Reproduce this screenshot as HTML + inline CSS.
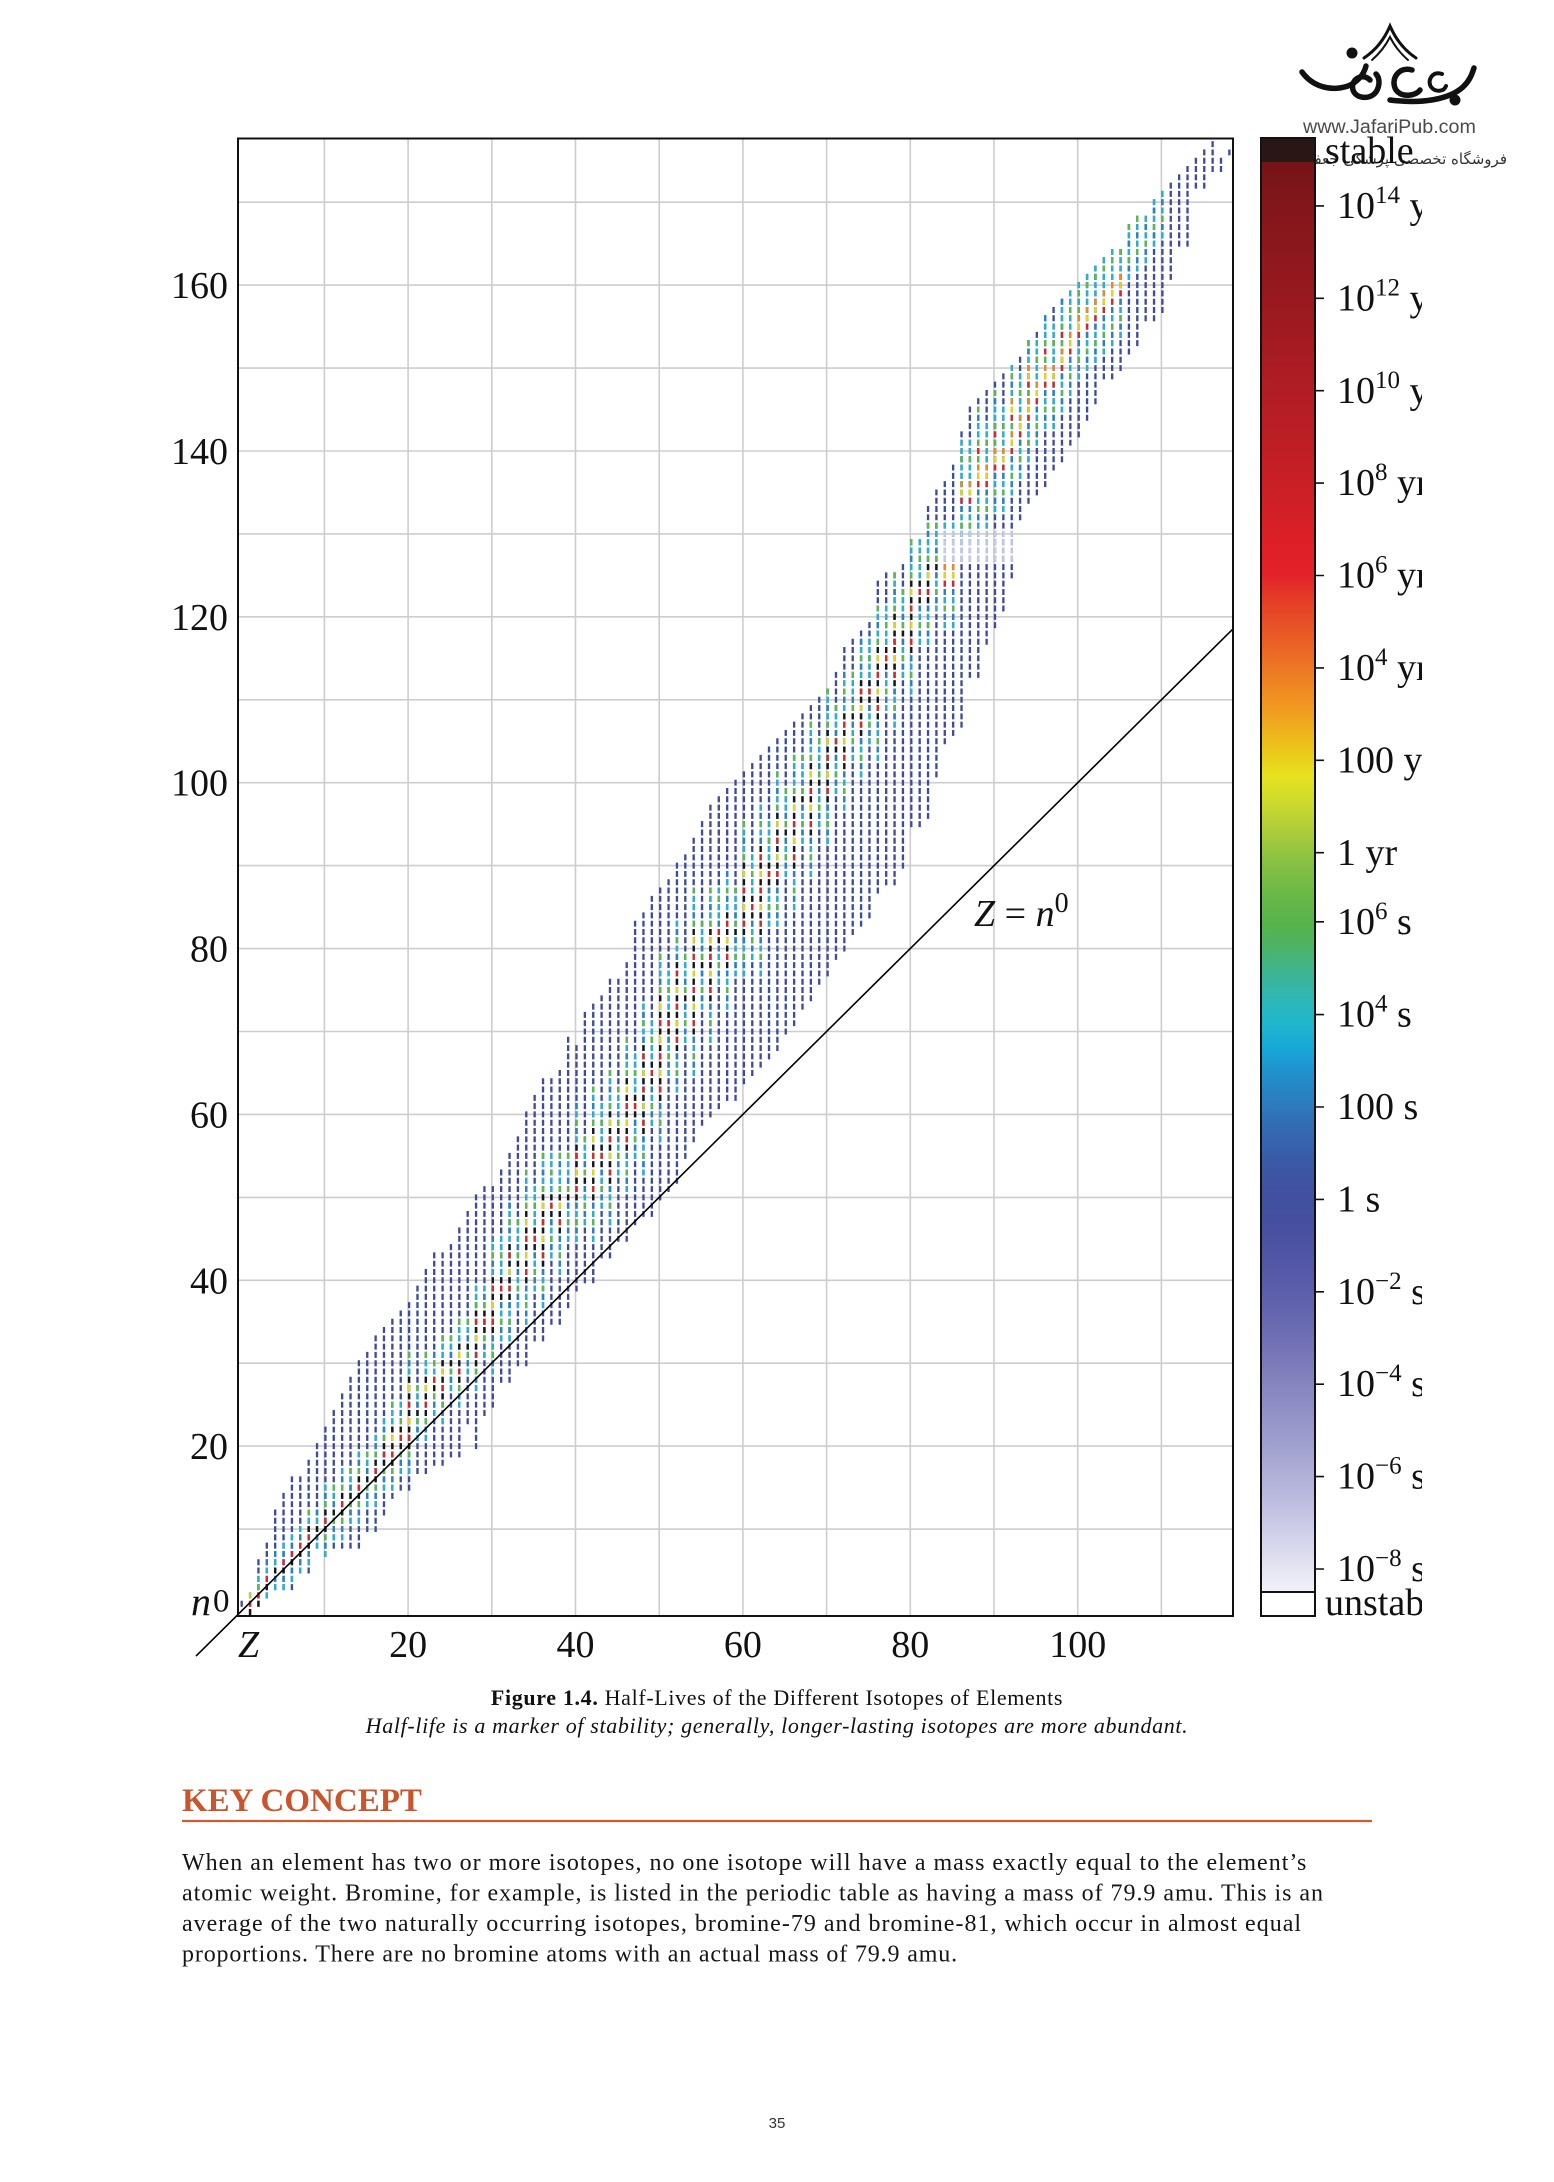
<!DOCTYPE html>
<html>
<head>
<meta charset="utf-8">
<style>
html,body{margin:0;padding:0;background:#fff;}
body{width:1554px;height:2182px;overflow:hidden;position:relative;}
svg{position:absolute;left:0;top:0;}
.serif{font-family:"Liberation Serif","Times New Roman",serif;}
</style>
</head>
<body>
<svg width="1554" height="2182" viewBox="0 0 1554 2182" xmlns="http://www.w3.org/2000/svg">
<defs>
<linearGradient id="cb" x1="0" y1="0" x2="0" y2="1">
<stop offset="0" stop-color="#761418"/>
<stop offset=".031" stop-color="#82161b"/>
<stop offset=".0965" stop-color="#98191f"/>
<stop offset=".159" stop-color="#b11d24"/>
<stop offset=".225" stop-color="#c91f26"/>
<stop offset=".264" stop-color="#dc1f27"/>
<stop offset=".289" stop-color="#e32228"/>
<stop offset=".306" stop-color="#e53c27"/>
<stop offset=".324" stop-color="#e85227"/>
<stop offset=".341" stop-color="#eb6626"/>
<stop offset=".355" stop-color="#ee7725"/>
<stop offset=".369" stop-color="#ef8a22"/>
<stop offset=".387" stop-color="#f0a01f"/>
<stop offset=".404" stop-color="#eebb1c"/>
<stop offset=".418" stop-color="#e9d01b"/>
<stop offset=".429" stop-color="#e8e21e"/>
<stop offset=".446" stop-color="#d0db2b"/>
<stop offset=".464" stop-color="#b3cf38"/>
<stop offset=".481" stop-color="#95c53f"/>
<stop offset=".499" stop-color="#7bbd44"/>
<stop offset=".516" stop-color="#65b848"/>
<stop offset=".534" stop-color="#56b34c"/>
<stop offset=".548" stop-color="#4db364"/>
<stop offset=".562" stop-color="#43b486"/>
<stop offset=".576" stop-color="#37b5a4"/>
<stop offset=".590" stop-color="#2bb7bc"/>
<stop offset=".603" stop-color="#1fb6ce"/>
<stop offset=".621" stop-color="#17a6d8"/>
<stop offset=".638" stop-color="#2190cc"/>
<stop offset=".656" stop-color="#2b7ec0"/>
<stop offset=".673" stop-color="#326db3"/>
<stop offset=".691" stop-color="#385fab"/>
<stop offset=".708" stop-color="#3d55a3"/>
<stop offset=".725" stop-color="#4150a0"/>
<stop offset=".743" stop-color="#474f9f"/>
<stop offset=".761" stop-color="#4e54a3"/>
<stop offset=".778" stop-color="#565aa8"/>
<stop offset=".796" stop-color="#5f61ad"/>
<stop offset=".813" stop-color="#6a6ab2"/>
<stop offset=".831" stop-color="#7574b7"/>
<stop offset=".848" stop-color="#8080bd"/>
<stop offset=".866" stop-color="#8c8cc4"/>
<stop offset=".883" stop-color="#9797ca"/>
<stop offset=".901" stop-color="#a3a3d0"/>
<stop offset=".918" stop-color="#afafd7"/>
<stop offset=".936" stop-color="#bcbcdf"/>
<stop offset=".953" stop-color="#cbcbe6"/>
<stop offset=".971" stop-color="#d9d9ee"/>
<stop offset=".985" stop-color="#e6e6f3"/>
<stop offset="1" stop-color="#f1f1f8"/>
</linearGradient>
<clipPath id="lc"><rect x="1316" y="0" width="106" height="1700"/></clipPath>
<path id="r" d="M0 .64V1.36M1 -.36V2.36M2 .64V6.36M3 1.64V8.36M4 2.64V12.36M5 2.64V14.36M6 2.64V16.36M7 4.64V16.36M8 4.64V18.36M9 7.64V20.36M10 6.64V22.36M11 7.64V24.36M12 7.64V26.36M13 7.64V28.36M14 7.64V30.36M15 9.64V31.36M16 9.64V33.36M17 11.64V34.36M18 13.64V35.36M19 14.64V36.36M20 14.64V37.36M21 16.64V39.36M22 16.64V41.36M23 17.64V43.36M24 17.64V43.36M25 18.64V44.36M26 18.64V46.36M27 22.64V48.36M28 19.64V50.36M29 23.64V51.36M30 24.64V51.36M31 27.64V53.36M32 27.64V55.36M33 29.64V57.36M34 29.64V60.36M35 32.64V62.36M36 32.64V64.36M37 34.64V64.36M38 34.64V65.36M39 36.64V69.36M40 38.64V68.36M41 39.64V72.36M42 39.64V73.36M43 42.64V74.36M44 42.64V76.36M45 44.64V76.36M46 44.64V78.36M47 46.64V83.36M48 47.64V84.36M49 47.64V86.36M50 49.64V87.36M51 50.64V88.36M52 51.64V90.36M53 54.64V91.36M54 56.64V93.36M55 58.64V95.36M56 59.64V97.36M57 60.64V98.36M58 61.64V99.36M59 61.64V100.36M60 63.64V101.36M61 64.64V102.36M62 65.64V103.36M63 66.64V104.36M64 67.64V105.36M65 69.64V106.36M66 70.64V107.36M67 72.64V108.36M68 73.64V109.36M69 75.64V110.36M70 76.64V111.36M71 78.64V113.36M72 79.64V116.36M73 81.64V117.36M74 82.64V118.36M75 83.64V119.36M76 86.64V124.36M77 87.64V125.36M78 87.64V125.36M79 89.64V126.36M80 94.64V129.36M81 94.64V129.36M82 95.64V133.36M83 100.64V135.36M84 104.64V136.36M85 105.64V138.36M86 106.64V142.36M87 112.64V145.36M88 112.64V146.36M89 116.64V147.36M90 118.64V148.36M91 120.64V149.36M92 124.64V150.36M93 131.64V151.36M94 133.64V153.36M95 134.64V154.36M96 135.64V156.36M97 137.64V157.36M98 138.64V158.36M99 140.64V159.36M100 141.64V160.36M101 143.64V161.36M102 145.64V162.36M103 148.64V163.36M104 148.64V164.36M105 149.64V164.36M106 151.64V167.36M107 152.64V168.36M108 155.64V168.36M109 155.64V170.36M110 156.64V171.36M111 160.64V172.36M112 164.64V173.36M113 164.64V174.36M114 171.64V175.36M115 171.64V176.36M116 173.64V177.36M117 173.64V175.36M118 175.64V176.36"/>
<path id="h" d="M2 .64V4.36M3 1.64V6.36M4 2.64V7.36M5 2.64V8.36M6 3.64V9.36M7 4.64V10.36M8 5.64V12.36M9 7.64V12.36M10 6.64V15.36M11 8.64V15.36M12 8.64V17.36M13 10.64V17.36M14 10.64V19.36M15 12.64V19.36M16 12.64V21.36M17 14.64V23.36M18 14.64V25.36M19 16.64V25.36M20 16.64V31.36M21 20.64V27.36M22 20.64V31.36M23 23.64V31.36M24 22.64V33.36M25 26.64V33.36M26 24.64V35.36M27 28.64V35.36M28 26.64V39.36M29 30.64V39.36M30 28.64V45.36M31 32.64V45.36M32 32.64V49.36M33 36.64V47.36M34 34.64V53.36M35 38.64V51.36M36 36.64V55.36M37 42.64V55.36M38 40.64V55.36M39 44.64V55.36M40 44.64V61.36M41 46.64V57.36M42 44.64V63.36M43 48.64V61.36M44 46.64V65.36M45 52.64V63.36M46 50.64V69.36M47 54.64V67.36M48 52.64V73.36M49 58.64V71.36M50 56.64V79.36M51 64.64V77.36M52 62.64V83.36M53 68.64V79.36M54 64.64V87.36M55 72.64V83.36M56 68.64V87.36M57 75.64V87.36M58 72.64V89.36M59 76.64V87.36M60 76.64V95.36M61 78.64V91.36M62 76.64V97.36M63 82.64V95.36M64 82.64V101.36M65 88.64V99.36M66 84.64V103.36M67 92.64V103.36M68 88.64V107.36M69 94.64V105.36M70 92.64V111.36M71 98.64V109.36M72 96.64V113.36M73 102.64V113.36M74 100.64V117.36M75 104.64V117.36M76 102.64V121.36M77 108.64V121.36M78 106.64V125.36M79 112.64V123.36M80 110.64V129.36M81 116.64V129.36M82 116.64V131.36M83 120.64V131.36M84 118.64V131.36M85 118.64V131.36M86 128.64V141.36M87 128.64V141.36M88 130.64V145.36M89 130.64V143.36M90 132.64V147.36M91 132.64V145.36M92 134.64V150.36M93 136.64V149.36M94 138.64V153.36M95 140.64V153.36M96 142.64V156.36M97 142.64V155.36M98 144.64V158.36M99 146.64V159.36M100 148.64V160.36M101 149.64V161.36M102 150.64V162.36M103 151.64V163.36M104 152.64V164.36M105 153.64V164.36M106 160.64V167.36M107 161.64V168.36M108 162.64V168.36M109 164.64V170.36M110 165.64V171.36"/>
<path id="p" d="M84 126.64V130.36M85 126.64V130.36M86 126.64V130.36M87 126.64V130.36M88 126.64V130.36M89 126.64V130.36M90 126.64V130.36M91 126.64V130.36M92 126.64V130.36"/>
<path id="s" d="M1 -.36V1.36M2 .64V2.36M3 2.64V4.36M4 4.64V5.36M5 4.64V6.36M6 5.64V7.36M7 6.64V8.36M8 7.64V10.36M9 9.64V10.36M10 9.64V12.36M11 11.64V12.36M12 11.64V14.36M13 13.64V14.36M14 13.64V16.36M15 15.64V16.36M16 15.64V18.36M17 17.64V20.36M18 17.64V22.36M19 19.64V22.36M20 19.64V28.36M21 23.64V24.36M22 23.64V28.36M23 26.64V28.36M24 25.64V30.36M25 29.64V30.36M26 27.64V32.36M27 31.64V32.36M28 29.64V36.36M29 33.64V36.36M30 33.64V40.36M31 37.64V40.36M32 37.64V44.36M33 41.64V42.36M34 39.64V48.36M35 43.64V46.36M36 41.64V50.36M37 47.64V50.36M38 45.64V50.36M39 49.64V50.36M40 49.64V56.36M41 51.64V52.36M42 49.64V58.36M43 53.64V56.36M44 51.64V60.36M45 57.64V58.36M46 55.64V64.36M47 59.64V62.36M48 57.64V68.36M49 63.64V66.36M50 61.64V74.36M51 69.64V72.36M52 67.64V78.36M53 73.64V74.36M54 69.64V82.36M55 77.64V78.36M56 73.64V82.36M57 80.64V82.36M58 77.64V84.36M59 81.64V82.36M60 81.64V90.36M61 83.64V86.36M62 81.64V92.36M63 87.64V90.36M64 87.64V96.36M65 93.64V94.36M66 89.64V98.36M67 97.64V98.36M68 93.64V102.36M69 99.64V100.36M70 97.64V106.36M71 103.64V105.36M72 101.64V108.36M73 107.64V108.36M74 105.64V112.36M75 109.64V112.36M76 107.64V116.36M77 113.64V116.36M78 111.64V120.36M79 117.64V118.36M80 115.64V124.36M81 121.64V124.36M82 121.64V126.36M83 125.64V126.36"/>
<path id="s2" d="M84 123.64V126.36M85 123.64V126.36M86 133.64V136.36M87 133.64V136.36M88 135.64V140.36M89 135.64V138.36M90 137.64V142.36M91 137.64V140.36M92 139.64V146.36M93 141.64V144.36M94 143.64V150.36M95 145.64V148.36M96 147.64V152.36M97 147.64V150.36M98 149.64V154.36M99 151.64V154.36M100 153.64V157.36M101 154.64V157.36M102 155.64V158.36M103 156.64V159.36M104 157.64V160.36M105 158.64V161.36"/>
</defs>

<!-- grid -->
<g stroke="#cdcdcd" stroke-width="1.6">
<path d="M324.4 139V1615M408.1 139V1615M491.8 139V1615M575.5 139V1615M659.2 139V1615M742.9 139V1615M826.6 139V1615M910.3 139V1615M994 139V1615M1077.7 139V1615M1161.4 139V1615"/>
<path d="M239 1529.1H1232M239 1446.1H1232M239 1363.2H1232M239 1280.3H1232M239 1197.4H1232M239 1114.4H1232M239 1031.5H1232M239 948.6H1232M239 865.6H1232M239 782.7H1232M239 699.8H1232M239 616.8H1232M239 533.9H1232M239 451H1232M239 368.1H1232M239 285.1H1232M239 202.2H1232"/>
</g>

<!-- data -->
<g transform="translate(241.7 1612) scale(8.37 -8.293)" fill="none" stroke-width=".28">
<use href="#r" stroke="#3e4c9b" stroke-dasharray=".72 .28"/>
<use href="#h" stroke="#27b2d0" stroke-dasharray=".72 .28"/>
<use href="#h" stroke="#2f80c3" stroke-dasharray=".72 2.28" stroke-dashoffset="-1"/>
<use href="#h" stroke="#5fb848" stroke-dasharray=".72 3.28" stroke-dashoffset="-2"/>
<use href="#p" stroke="#c8c9e6" stroke-dasharray=".72 .28"/>
<use href="#s" stroke="#1b1515" stroke-dasharray=".72 1.28"/>
<use href="#s" stroke="#d9262b" stroke-dasharray=".72 3.28" stroke-dashoffset="-1"/>
<use href="#s" stroke="#e7d41f" stroke-dasharray=".72 3.28" stroke-dashoffset="-3"/>
<use href="#s2" stroke="#d9262b" stroke-dasharray=".72 3.28"/>
<use href="#s2" stroke="#e7d41f" stroke-dasharray=".72 3.28" stroke-dashoffset="-1"/>
<use href="#s2" stroke="#ee8a22" stroke-dasharray=".72 3.28" stroke-dashoffset="-2"/>
<use href="#s2" stroke="#5fb848" stroke-dasharray=".72 3.28" stroke-dashoffset="-3"/>
<path d="M1 1.64V2.36" stroke="#b7d23a"/>
</g>

<!-- diagonal Z = n0 -->
<line x1="196" y1="1656.1" x2="1233" y2="628.9" stroke="#000" stroke-width="1.6"/>

<!-- frame -->
<rect x="238" y="138.5" width="995" height="1477.5" fill="none" stroke="#111" stroke-width="2"/>

<!-- axis labels -->
<g class="serif" font-size="38" fill="#111" text-anchor="end">
<text x="228" y="1459.1">20</text>
<text x="228" y="1293.3">40</text>
<text x="228" y="1127.4">60</text>
<text x="228" y="961.6">80</text>
<text x="228" y="795.7">100</text>
<text x="228" y="629.8">120</text>
<text x="228" y="464">140</text>
<text x="228" y="298.1">160</text>
</g>
<g class="serif" font-size="38" fill="#111" text-anchor="middle">
<text x="408.1" y="1657">20</text>
<text x="575.5" y="1657">40</text>
<text x="742.9" y="1657">60</text>
<text x="910.3" y="1657">80</text>
<text x="1077.7" y="1657">100</text>
</g>
<text class="serif" x="238" y="1657" font-size="38" font-style="italic" fill="#111">Z</text>
<text class="serif" x="191" y="1615" font-size="40" font-style="italic" fill="#111">n</text>
<text class="serif" x="213" y="1611.5" font-size="33" fill="#111">0</text>
<text class="serif" x="974" y="926" font-size="38" fill="#111"><tspan font-style="italic">Z</tspan> = <tspan font-style="italic">n</tspan><tspan font-size="28" dy="-14">0</tspan></text>

<!-- logo -->
<g stroke="#111" fill="none" stroke-linecap="round">
<path d="M1364 58 C1376 50 1384 40 1390 26 C1396 40 1404 50 1416 58" stroke-width="3"/>
<path d="M1372 60 C1380 53 1386 45 1390 37 C1394 45 1400 53 1408 60" stroke-width="2"/>
<path d="M1302 72 C1312 86 1330 92 1348 86 C1358 82 1364 74 1366 66" stroke-width="5.5"/>
<path d="M1370 80 C1362 72 1350 80 1353 90 C1356 99 1370 100 1376 92 C1380 86 1380 78 1376 74" stroke-width="5.5"/>
<path d="M1412 70 C1398 66 1390 80 1396 90 C1402 98 1416 96 1420 90" stroke-width="5.5"/>
<path d="M1390 100 C1420 104 1450 100 1464 86 C1470 80 1472 74 1474 68" stroke-width="5.5"/>
<path d="M1442 74 C1432 70 1426 82 1432 88 C1436 92 1444 92 1446 86" stroke-width="4"/>
</g>
<circle cx="1352" cy="53" r="5.5" fill="#111"/>
<circle cx="1455" cy="100" r="5.5" fill="#111"/>
<text x="1303" y="133" font-family="Liberation Sans, Arial, sans-serif" font-size="19.7" fill="#4a4a4a">www.JafariPub.com</text>
<text x="1507" y="164" text-anchor="end" font-family="DejaVu Sans, sans-serif" font-size="15" fill="#333">فروشگاه تخصصی پزشکی جعفری نوین</text>

<!-- colorbar -->
<rect x="1261" y="138" width="54" height="24" fill="#2b1616"/>
<rect x="1261" y="162" width="54" height="1430" fill="url(#cb)"/>
<rect x="1261" y="1592" width="54" height="24" fill="#fff"/>
<line x1="1261" y1="1592" x2="1315" y2="1592" stroke="#111" stroke-width="2"/>
<rect x="1261" y="138" width="54" height="1478" fill="none" stroke="#111" stroke-width="2"/>
<g stroke="#111" stroke-width="1.6">
<path d="M1315 205.9H1324M1315 298.3H1324M1315 390.7H1324M1315 483.1H1324M1315 575.5H1324M1315 667.9H1324M1315 760.3H1324M1315 852.7H1324M1315 921.8H1324M1315 1014.6H1324M1315 1107H1324M1315 1199.4H1324M1315 1291.8H1324M1315 1384.2H1324M1315 1476.6H1324M1315 1569H1324"/>
</g>
<g class="serif" font-size="38" fill="#111" clip-path="url(#lc)">
<text x="1325" y="163">stable</text>
<text x="1337" y="218">10<tspan font-size="25" dy="-15">14</tspan><tspan dy="15"> yr</tspan></text>
<text x="1337" y="310.5">10<tspan font-size="25" dy="-15">12</tspan><tspan dy="15"> yr</tspan></text>
<text x="1337" y="403">10<tspan font-size="25" dy="-15">10</tspan><tspan dy="15"> yr</tspan></text>
<text x="1337" y="495">10<tspan font-size="25" dy="-15">8</tspan><tspan dy="15"> yr</tspan></text>
<text x="1337" y="587.5">10<tspan font-size="25" dy="-15">6</tspan><tspan dy="15"> yr</tspan></text>
<text x="1337" y="680">10<tspan font-size="25" dy="-15">4</tspan><tspan dy="15"> yr</tspan></text>
<text x="1337" y="772.5">100 yr</text>
<text x="1337" y="865">1 yr</text>
<text x="1337" y="934">10<tspan font-size="25" dy="-15">6</tspan><tspan dy="15"> s</tspan></text>
<text x="1337" y="1026.5">10<tspan font-size="25" dy="-15">4</tspan><tspan dy="15"> s</tspan></text>
<text x="1337" y="1119">100 s</text>
<text x="1337" y="1211.5">1 s</text>
<text x="1337" y="1304">10<tspan font-size="25" dy="-15">−2</tspan><tspan dy="15"> s</tspan></text>
<text x="1337" y="1396">10<tspan font-size="25" dy="-15">−4</tspan><tspan dy="15"> s</tspan></text>
<text x="1337" y="1488.5">10<tspan font-size="25" dy="-15">−6</tspan><tspan dy="15"> s</tspan></text>
<text x="1337" y="1581">10<tspan font-size="25" dy="-15">−8</tspan><tspan dy="15"> s</tspan></text>
<text x="1325" y="1615">unstable</text>
</g>

<!-- caption -->
<g class="serif" fill="#111" text-anchor="middle" font-size="22" letter-spacing="0.65">
<text x="777" y="1705"><tspan font-weight="bold">Figure 1.4.</tspan> Half-Lives of the Different Isotopes of Elements</text>
<text x="777" y="1733" font-style="italic">Half-life is a marker of stability; generally, longer-lasting isotopes are more abundant.</text>
</g>

<!-- key concept -->
<text class="serif" x="182" y="1811" font-size="33" font-weight="bold" fill="#c9552c">KEY CONCEPT</text>
<line x1="182" y1="1821" x2="1372" y2="1821" stroke="#cf5b33" stroke-width="2.2"/>
<g class="serif" fill="#151515" font-size="24">
<text x="182" y="1870" letter-spacing="0.99">When an element has two or more isotopes, no one isotope will have a mass exactly equal to the element’s</text>
<text x="182" y="1900.5" letter-spacing="0.96">atomic weight. Bromine, for example, is listed in the periodic table as having a mass of 79.9 amu. This is an</text>
<text x="182" y="1931" letter-spacing="1.0">average of the two naturally occurring isotopes, bromine-79 and bromine-81, which occur in almost equal</text>
<text x="182" y="1961.5" letter-spacing="0.85">proportions. There are no bromine atoms with an actual mass of 79.9 amu.</text>
</g>

<!-- page number -->
<text x="777" y="2128" text-anchor="middle" font-family="Liberation Sans, Arial, sans-serif" font-size="15" fill="#333">35</text>
</svg>
</body>
</html>
